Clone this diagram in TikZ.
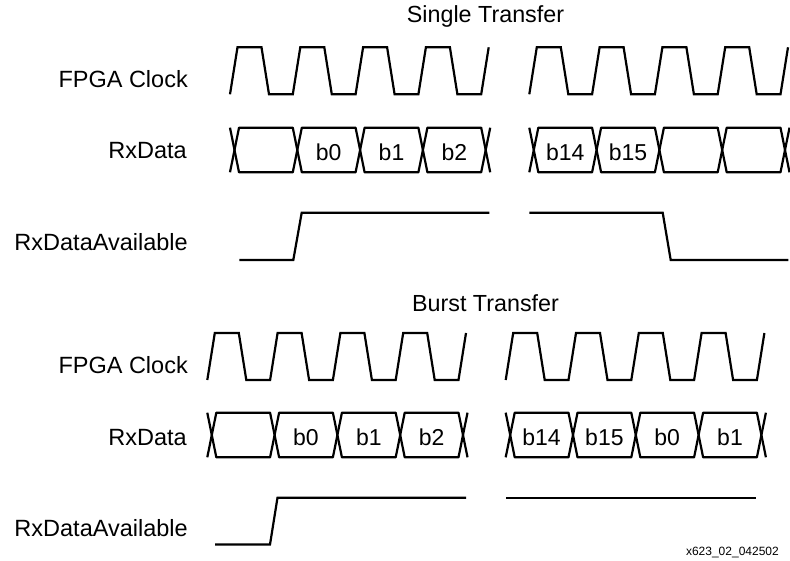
\documentclass[tikz,border=0pt]{standalone}
\usepackage{fontspec}
\setmainfont{Liberation Sans}

\tikzset{
wave/.style={line width=2.2pt},
buswave/.style={line width=2.2pt,line join=round},
sig/.style={anchor=base east,inner sep=0pt,font=\fontsize{23.5}{28}\selectfont},
head/.style={anchor=base,inner sep=0pt,font=\fontsize{23.3}{28}\selectfont},
val/.style={anchor=base,inner sep=0pt,font=\fontsize{23}{28}\selectfont},
figid/.style={anchor=base east,inner sep=0pt,font=\fontsize{12}{14}\selectfont}
}

\providecommand{\Clock}[1]{
\draw[wave] (#1) foreach \k in {1,...,4} {
 -- ++(7.5,-47) -- ++(24,0) -- ++(7.5,47) -- ++(23.8,0)
} -- ++(7.5,-47);
}
\providecommand{\Cell}[1]{
\draw[buswave] (#1) -- +(4.5,-22.3) -- +(58.3,-22.3) -- +(62.8,0)
 -- +(58.3,22.3) -- +(4.5,22.3) -- cycle;
}
\providecommand{\CrossL}[1]{
\draw[buswave] (#1) ++(-4.5,-22.3) -- ++(4.5,22.3) -- ++(-4.5,22.3);
}
\providecommand{\CrossR}[1]{
\draw[buswave] (#1) ++(4.5,-22.3) -- ++(-4.5,22.3) -- ++(4.5,22.3);
}
\providecommand{\Bus}[1]{
\begin{scope}[shift={(#1)}]
\foreach \k in {0,...,3} {\Cell{\k*62.8,0}}
\CrossL{0,0}\CrossR{4*62.8,0}
\end{scope}
}

\begin{document}
\begin{tikzpicture}[x=1pt,y=-1pt]
\useasboundingbox (0,0) rectangle (790,561);

% single transfer
\node[head] (single) at (485.5,23) {Single Transfer};
\node[sig] (clk1) at (188,87.5) {FPGA Clock};
\node[sig] (data1) at (187,159) {RxData};
\node[sig] (avail1) at (188,250.5) {RxDataAvailable};
\Clock{230,94.3}\Clock{529.3,94.3}
\Bus{234.5,150}\Bus{533.8,150}
\node[val] (s-b0) at (328.7,160.5) {b0};
\node[val] (s-b1) at (391.5,160.5) {b1};
\node[val] (s-b2) at (454.3,160.5) {b2};
\node[val] (s-b14) at (565.2,160.5) {b14};
\node[val] (s-b15) at (628,160.5) {b15};
\draw[wave] (239.3,260) -- (293.3,260) -- (301.7,212.7) -- (489.3,212.7);
\draw[wave] (529.3,212.7) -- (662.7,212.7) -- (670.7,260) -- (788.3,260);

% burst transfer
\node[head] (burst) at (485.5,312) {Burst Transfer};
\node[sig] (clk2) at (188,373.5) {FPGA Clock};
\node[sig] (data2) at (187,445) {RxData};
\node[sig] (avail2) at (188,536.5) {RxDataAvailable};
\Clock{207.3,380}\Clock{505.7,380}
\Bus{211.8,435}\Bus{510.2,435}
\node[val] (b-b0) at (306,445.5) {b0};
\node[val] (b-b1) at (368.8,445.5) {b1};
\node[val] (b-b2) at (431.6,445.5) {b2};
\node[val] (b-b14) at (541.6,445.5) {b14};
\node[val] (b-b15) at (604.4,445.5) {b15};
\node[val] (b-b0b) at (667.2,445.5) {b0};
\node[val] (b-b1b) at (730,445.5) {b1};
\draw[wave] (215,544.5) -- (270,544.5) -- (277.5,497.7) -- (466,497.7);
\draw[wave] (506,497.7) -- (756,497.7);

\node[figid] (fig) at (779,555.5) {x623\_02\_042502};
\end{tikzpicture}
\end{document}
